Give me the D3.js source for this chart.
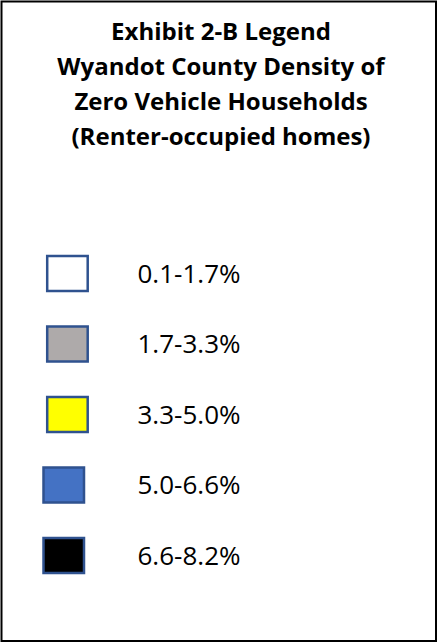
<!DOCTYPE html>
<html>
<head>
<meta charset="utf-8">
<script src="https://cdn.jsdelivr.net/npm/d3@7"></script>
<style>
  html, body { margin: 0; padding: 0; background: #fff; }
  svg { display: block; }
</style>
</head>
<body>
<script>
// ---- data ----
const titleLines = [
  "Exhibit 2-B Legend",
  "Wyandot County Density of",
  "Zero Vehicle Households",
  "(Renter-occupied homes)"
];
const categories = ["0.1-1.7%", "1.7-3.3%", "3.3-5.0%", "5.0-6.6%", "6.6-8.2%"];
const colors = ["#FFFFFF", "#AEAAAA", "#FFFF00", "#4472C4", "#000000"];

// ---- layout ----
const W = 438, H = 643;
const svg = d3.select("body").append("svg").attr("width", W).attr("height", H);

svg.append("rect")
  .attr("x", 1.5).attr("y", 1.5)
  .attr("width", 434.5).attr("height", 639.5)
  .attr("fill", "#fff").attr("stroke", "#000").attr("stroke-width", 2);

const titleY = d3.scalePoint().domain(d3.range(titleLines.length)).range([40, 145]);
svg.append("g").selectAll("text").data(titleLines).join("text")
  .attr("x", 221).attr("y", (d, i) => titleY(i))
  .attr("text-anchor", "middle")
  .attr("font-family", "'Open Sans', sans-serif")
  .attr("font-weight", "bold")
  .attr("font-size", 24)
  .attr("fill", "#000")
  .text(d => d);

const y = d3.scalePoint().domain(categories).range([273.5, 555.5]);
const color = d3.scaleOrdinal().domain(categories).range(colors);

const items = svg.append("g").selectAll("g").data(categories).join("g")
  .attr("transform", d => `translate(0,${y(d)})`);

items.append("rect")
  .attr("x", (d, i) => i < 3 ? 47.2 : 43.5)
  .attr("y", -17.5)
  .attr("width", 40.5).attr("height", 35)
  .attr("fill", d => color(d))
  .attr("stroke", "#2F528F").attr("stroke-width", 2.5);

items.append("text")
  .attr("x", 137.5).attr("y", 9)
  .attr("font-family", "'Open Sans', sans-serif")
  .attr("font-size", 26)
  .attr("fill", "#000")
  .text(d => d);
</script>
</body>
</html>
